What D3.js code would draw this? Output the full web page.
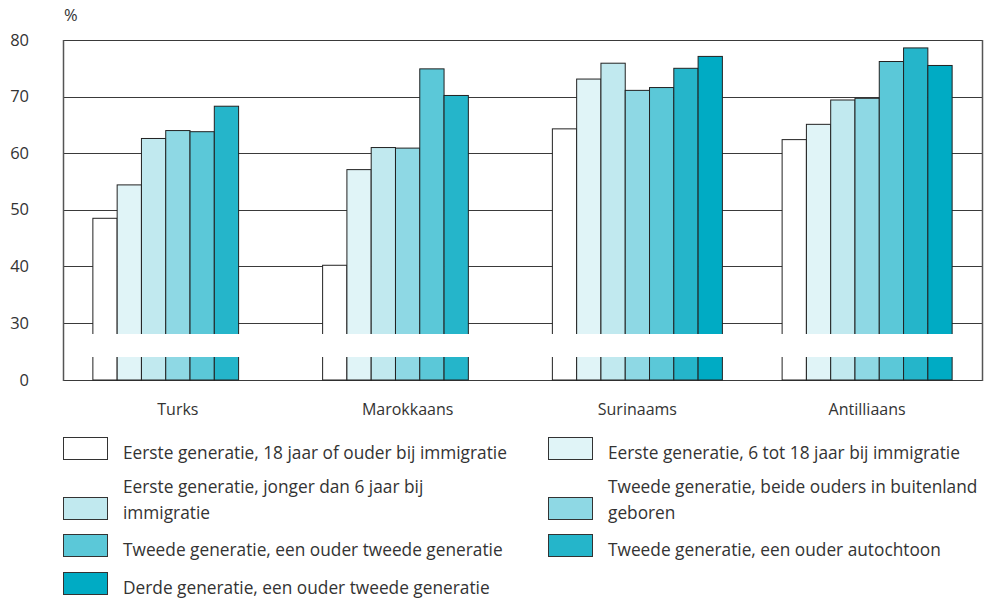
<!DOCTYPE html>
<html>
<head>
<meta charset="utf-8">
<script src="https://cdn.jsdelivr.net/npm/d3@7"></script>
<style>
	body { margin: 0; background: #fff; }
	text { font-family: "Open Sans", "Noto Sans", sans-serif; fill: #333; }
</style>
</head>
<body>
<svg id="chart"></svg>
<script>
// groups on the x axis
const groups = ["Turks", "Marokkaans", "Surinaams", "Antilliaans"];

// series names (legend), in bar order
const seriesNames = [
	"Eerste generatie, 18 jaar of ouder bij immigratie",
	"Eerste generatie, 6 tot 18 jaar bij immigratie",
	"Eerste generatie, jonger dan 6 jaar bij immigratie",
	"Tweede generatie, beide ouders in buitenland geboren",
	"Tweede generatie, een ouder tweede generatie",
	"Tweede generatie, een ouder autochtoon",
	"Derde generatie, een ouder tweede generatie"
];
// legend text broken in lines as in the picture
const legendLines = [
	["Eerste generatie, 18 jaar of ouder bij immigratie"],
	["Eerste generatie, 6 tot 18 jaar bij immigratie"],
	["Eerste generatie, jonger dan 6 jaar bij", "immigratie"],
	["Tweede generatie, beide ouders in buitenland", "geboren"],
	["Tweede generatie, een ouder tweede generatie"],
	["Tweede generatie, een ouder autochtoon"],
	["Derde generatie, een ouder tweede generatie"]
];
const seriesColors = ["#ffffff", "#e0f4f7", "#c1e9ef", "#8ed8e4", "#5bc8d8", "#25b5ca", "#00abc4"];

// values per group (null = no bar)
const turks = [48.5, 54.4, 62.6, 64.0, 63.8, 68.3, null];
const marokkaans = [40.2, 57.1, 61.0, 60.9, 74.9, 70.2, null];
const surinaams = [64.3, 73.1, 75.9, 71.1, 71.6, 75.0, 77.1];
const antilliaans = [62.4, 65.1, 69.4, 69.7, 76.2, 78.6, 75.5];
const values = [turks, marokkaans, surinaams, antilliaans];

const yTicks = [0, 30, 40, 50, 60, 70, 80];

const width = 984, height = 601;
const svg = d3.select("#chart").attr("width", width).attr("height", height);

const plotLeft = 63, plotRight = 982, plotTop = 40, plotBottom = 380;

// broken axis: 0 sits one step below 30
const y = d3.scaleLinear().domain([0, 30, 80]).range([plotBottom, 323, plotTop]);

const x = d3.scaleBand().domain(groups).range([plotLeft, plotRight]).paddingInner(0.26).paddingOuter(0.13);
const xs = d3.scaleBand().domain(d3.range(seriesNames.length)).range([0, x.bandwidth()]);

// grid lines
svg.append("g")
	.selectAll("line")
	.data(yTicks)
	.join("line")
	.attr("x1", plotLeft)
	.attr("x2", plotRight)
	.attr("y1", (d) => Math.round(y(d)) + 0.5)
	.attr("y2", (d) => Math.round(y(d)) + 0.5)
	.attr("stroke", "#3a3a3a")
	.attr("stroke-width", 1);

// frame sides
svg.append("line").attr("x1", plotLeft + 0.5).attr("x2", plotLeft + 0.5).attr("y1", plotTop).attr("y2", plotBottom + 1)
	.attr("stroke", "#555").attr("stroke-width", 1.5);
svg.append("line").attr("x1", plotRight + 0.5).attr("x2", plotRight + 0.5).attr("y1", plotTop).attr("y2", plotBottom + 1)
	.attr("stroke", "#555").attr("stroke-width", 1.5);

// bars
const flat = [];
values.forEach((vals, gi) => {
	vals.forEach((v, si) => {
		if (v != null) flat.push({ group: groups[gi], series: si, value: v });
	});
});

svg.append("g")
	.selectAll("rect")
	.data(flat)
	.join("rect")
	.attr("x", (d) => x(d.group) + xs(d.series))
	.attr("y", (d) => y(d.value))
	.attr("width", xs.bandwidth())
	.attr("height", (d) => y(0) - y(d.value))
	.attr("fill", (d) => seriesColors[d.series])
	.attr("stroke", "#222")
	.attr("stroke-width", 1);

// axis break band
svg.append("rect")
	.attr("x", x(groups[0]) - 2)
	.attr("y", 334)
	.attr("width", x(groups[3]) + x.bandwidth() - x(groups[0]) + 4)
	.attr("height", 23)
	.attr("fill", "#fff");

// y labels
svg.append("g")
	.selectAll("text")
	.data(yTicks)
	.join("text")
	.attr("x", 29)
	.attr("y", (d) => y(d))
	.attr("dy", "0.34em")
	.attr("text-anchor", "end")
	.attr("font-size", 16.5)
	.text((d) => d);

svg.append("text").attr("x", 64).attr("y", 21).attr("font-size", 16.5).text("%");

// x labels
svg.append("g")
	.selectAll("text")
	.data(groups)
	.join("text")
	.attr("x", (d) => x(d) + x.bandwidth() / 2)
	.attr("y", 415)
	.attr("text-anchor", "middle")
	.attr("font-size", 16)
	.text((d) => d);

// legend
const legendCols = [63, 548];
const legendRowTop = [437, 497, 534, 572];
const legend = svg.append("g");
seriesNames.forEach((name, i) => {
	const col = i % 2, row = Math.floor(i / 2);
	const gx = legendCols[col], gy = legendRowTop[row];
	legend.append("rect")
		.attr("x", gx + 0.5).attr("y", gy + 0.5)
		.attr("width", 44).attr("height", 22)
		.attr("fill", seriesColors[i])
		.attr("stroke", "#333").attr("stroke-width", 1);
	const lines = legendLines[i];
	const t = legend.append("text").attr("font-size", 17.3);
	const firstY = lines.length == 1 ? gy + 22 : gy - 4;
	lines.forEach((ln, k) => {
		t.append("tspan").attr("x", gx + 60).attr("y", firstY + k * 26).text(ln);
	});
});
</script>
</body>
</html>
